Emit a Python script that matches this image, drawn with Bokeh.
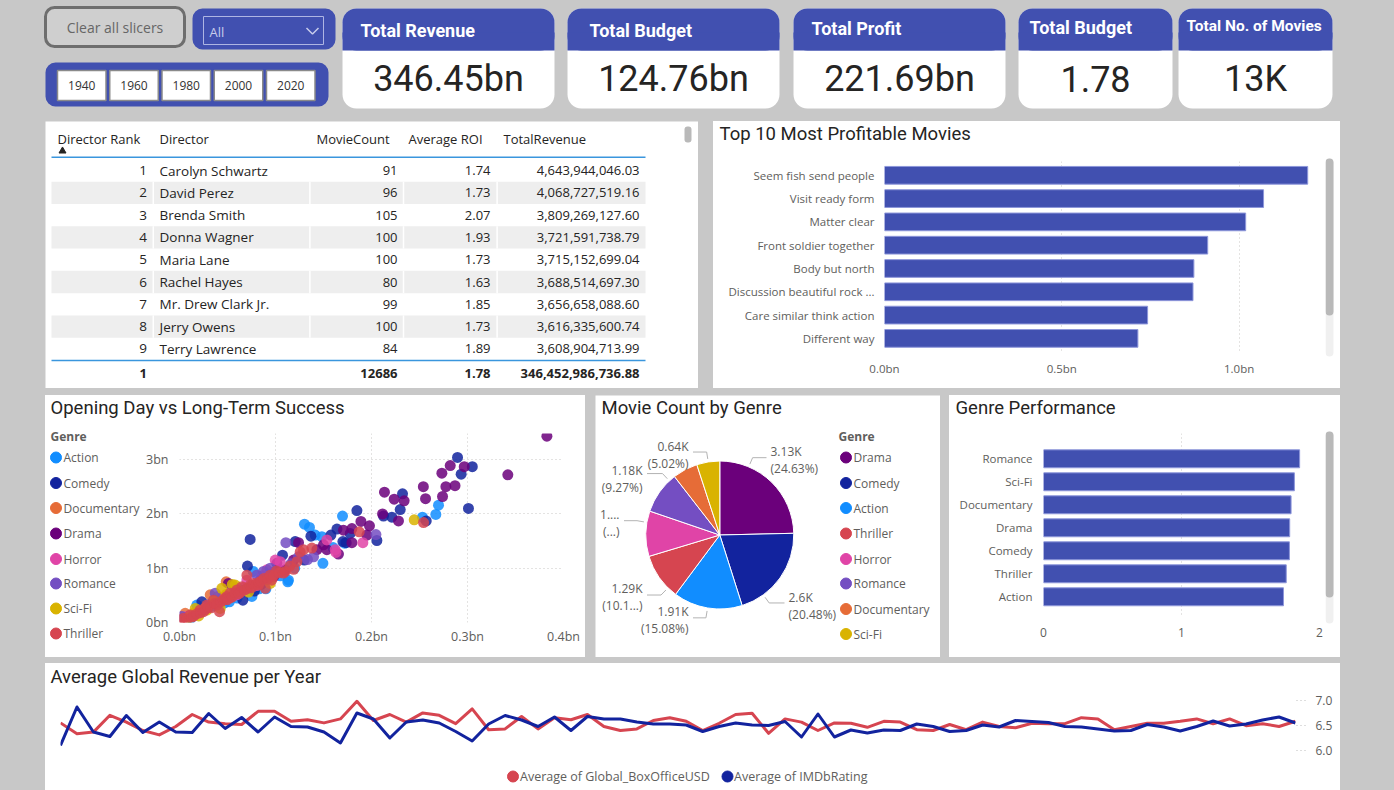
import math
import numpy as np
from bokeh.plotting import figure
from bokeh.models import Range1d, Spacer, FixedTicker, PrintfTickFormatter
from bokeh.layouts import row, column
from bokeh.core.properties import value
from bokeh.embed import file_html
from bokeh.resources import INLINE

# ---------------------------------------------------------------- data
year_buttons = ["1940", "1960", "1980", "2000", "2020"]
genre_filter = "All"

kpi_titles = ["Total Revenue", "Total Budget", "Total Profit", "Total Budget", "Total No. of Movies"]
kpi_values = ["346.45bn", "124.76bn", "221.69bn", "1.78", "13K"]

table_columns = ["Director Rank", "Director", "MovieCount", "Average ROI", "TotalRevenue"]
dir_rank = [1, 2, 3, 4, 5, 6, 7, 8, 9]
dir_name = ["Carolyn Schwartz", "David Perez", "Brenda Smith", "Donna Wagner", "Maria Lane",
            "Rachel Hayes", "Mr. Drew Clark Jr.", "Jerry Owens", "Terry Lawrence"]
dir_movies = [91, 96, 105, 100, 100, 80, 99, 100, 84]
dir_roi = [1.74, 1.73, 2.07, 1.93, 1.73, 1.63, 1.85, 1.73, 1.89]
dir_revenue = [4643944046.03, 4068727519.16, 3809269127.60, 3721591738.79, 3715152699.04,
               3688514697.30, 3656658088.60, 3616335600.74, 3608904713.99]
total_rank = 1
total_movies = 12686
total_roi = 1.78
total_revenue = 346452986736.88

top_movies = ["Seem fish send people", "Visit ready form", "Matter clear", "Front soldier together",
              "Body but north", "Discussion beautiful rock ...", "Care similar think action", "Different way"]
top_profit_bn = [1.1935, 1.069, 1.0186, 0.9115, 0.8725, 0.870, 0.742, 0.7146]

# opening-day gross vs global gross, in billions USD, one pair of lists per genre
scatter_genres = ["Action", "Comedy", "Documentary", "Drama", "Horror", "Romance", "Sci-Fi", "Thriller"]
action_open = [0.012, 0.0181, 0.025, 0.034, 0.047, 0.052, 0.060, 0.0754, 0.0768, 0.083, 0.090, 0.105,
               0.1128, 0.1135, 0.120, 0.1302, 0.1354, 0.1413, 0.1483, 0.1494, 0.160, 0.1698, 0.172,
               0.2531, 0.267, 0.2698]
action_total = [0.08, 0.32, 0.26, 0.30, 0.36, 0.38, 0.45, 0.48, 0.94, 0.62, 0.62, 0.86,
                0.75, 0.78, 1.00, 1.81, 1.75, 1.61, 1.58, 1.09, 1.38, 1.96, 1.46,
                1.94, 1.99, 2.16]
comedy_open = [0.0233, 0.035, 0.040, 0.058, 0.066, 0.0708, 0.0736, 0.078, 0.085, 0.097, 0.1073, 0.1205,
               0.130, 0.1369, 0.1577, 0.164, 0.1702, 0.1736, 0.1778, 0.1848, 0.2056, 0.2125, 0.2212,
               0.2299, 0.2323, 0.257, 0.2896, 0.2934, 0.301, 0.305]
comedy_total = [0.38, 0.36, 0.40, 0.52, 0.41, 1.04, 1.53, 0.58, 0.70, 0.92, 1.24, 1.49,
                1.15, 1.59, 1.61, 1.72, 1.49, 1.47, 1.64, 2.06, 1.51, 1.96, 1.94,
                2.08, 2.37, 1.87, 3.04, 2.73, 2.10, 2.87]
documentary_open = [0.0059, 0.0146, 0.020, 0.027, 0.032, 0.040, 0.044, 0.0486, 0.057, 0.063]
documentary_total = [0.17, 0.17, 0.21, 0.27, 0.51, 0.48, 0.45, 0.75, 0.63, 0.58]
drama_open = [0.051, 0.075, 0.090, 0.0979, 0.1014, 0.1101, 0.1188, 0.124, 0.1431, 0.150, 0.1535, 0.1656,
              0.1708, 0.1796, 0.1796, 0.189, 0.1952, 0.1979, 0.2115, 0.2135, 0.2236, 0.2281, 0.234,
              0.254, 0.2563, 0.274, 0.2733, 0.2775, 0.282, 0.287, 0.2966, 0.342, 0.3827]
drama_total = [0.72, 0.68, 0.82, 0.84, 1.09, 0.97, 1.15, 1.47, 1.34, 1.43, 1.34, 1.26,
               1.70, 1.73, 1.47, 1.86, 1.61, 1.78, 2.00, 2.40, 2.27, 1.87, 2.24,
               2.50, 2.28, 2.32, 2.75, 2.50, 2.89, 2.52, 2.87, 2.72, 3.43]
horror_open = [0.0077, 0.029, 0.050, 0.0597, 0.066, 0.0702, 0.080, 0.086, 0.091, 0.0997, 0.1049, 0.1535,
               0.1622, 0.163, 0.191]
horror_total = [0.11, 0.29, 0.44, 0.51, 0.64, 0.78, 0.68, 0.86, 0.97, 1.15, 1.12, 1.52,
                1.34, 1.29, 1.47]
romance_open = [0.0025, 0.031, 0.0372, 0.0563, 0.061, 0.068, 0.0806, 0.084, 0.0875, 0.0945, 0.099,
                0.1108, 0.116, 0.124, 0.1333, 0.1396, 0.2046]
romance_total = [0.11, 0.33, 0.54, 0.66, 0.62, 0.60, 0.87, 0.78, 0.94, 1.00, 0.90,
                 1.47, 1.08, 1.21, 1.16, 1.21, 1.62]
scifi_open = [0.010, 0.0164, 0.020, 0.0285, 0.036, 0.0424, 0.0441, 0.049, 0.055, 0.058, 0.072, 0.0945,
              0.2445]
scifi_total = [0.09, 0.26, 0.12, 0.23, 0.39, 0.26, 0.63, 0.52, 0.70, 0.69, 0.56, 0.72, 1.89]
thriller_open = [0.0007, 0.0042, 0.008, 0.0111, 0.013, 0.015, 0.018, 0.0216, 0.022, 0.025, 0.027,
                 0.0285, 0.030, 0.033, 0.0354, 0.037, 0.039, 0.0417, 0.043, 0.0458, 0.047, 0.0494,
                 0.050, 0.0528, 0.053, 0.055, 0.058, 0.0598, 0.062, 0.064, 0.065, 0.068, 0.0702,
                 0.071, 0.0736, 0.075, 0.077, 0.080, 0.0823, 0.083, 0.085, 0.088, 0.0893, 0.092,
                 0.0945, 0.096, 0.098, 0.101, 0.104, 0.1083, 0.1101, 0.115, 0.119, 0.1223, 0.1257,
                 0.1292, 0.1379, 0.1872, 0.2542]
thriller_total = [0.05, 0.08, 0.06, 0.14, 0.10, 0.12, 0.16, 0.23, 0.18, 0.20, 0.24,
                  0.32, 0.28, 0.27, 0.41, 0.35, 0.32, 0.20, 0.38, 0.41, 0.44, 0.48,
                  0.42, 0.54, 0.46, 0.47, 0.55, 0.60, 0.53, 0.57, 0.66, 0.60, 0.87,
                  0.63, 0.69, 0.64, 0.72, 0.70, 0.69, 0.74, 0.76, 0.81, 0.63, 0.80,
                  0.87, 0.78, 0.86, 0.95, 0.92, 0.91, 0.94, 1.04, 0.98, 1.12, 1.30,
                  1.34, 1.37, 1.67, 1.84]

pie_genres = ["Drama", "Comedy", "Action", "Thriller", "Horror", "Romance", "Documentary", "Sci-Fi"]
genre_counts = [3125, 2598, 1913, 1287, 1255, 1176, 695, 637]

perf_genres = ["Romance", "Sci-Fi", "Documentary", "Drama", "Comedy", "Thriller", "Action"]
perf_roi = [1.856, 1.818, 1.794, 1.784, 1.782, 1.759, 1.739]

years = list(range(1949, 2025))
avg_box_office_musd = [27.2, 24.5, 24.9, 29.1, 27.4, 25.3, 24.2, 26.3, 29.3, 27.4, 27.0, 26.8, 30.1,
                       30.1, 27.6, 28.0, 27.2, 28.2, 32.6, 27.8, 29.3, 27.4, 29.7, 29.1, 27.0, 30.7,
                       25.5, 25.7, 28.8, 25.7, 28.5, 28.0, 29.3, 26.3, 25.3, 25.7, 27.8, 28.5, 27.6,
                       25.3, 27.1, 29.3, 29.6, 24.6, 28.2, 27.4, 25.3, 27.2, 27.1, 26.1, 27.6, 27.4,
                       25.5, 25.3, 26.8, 25.5, 27.4, 26.3, 26.0, 27.1, 27.0, 27.0, 28.5, 28.2, 25.5,
                       26.3, 27.1, 27.1, 27.6, 28.2, 27.0, 28.2, 26.5, 27.0, 26.3, 27.6]
avg_imdb = [6.10, 6.87, 6.37, 6.28, 6.70, 6.36, 6.57, 6.37, 6.36, 6.74, 6.44, 6.66, 6.37, 6.67, 6.48,
            6.47, 6.37, 6.15, 6.75, 6.63, 6.25, 6.57, 6.61, 6.55, 6.38, 6.19,
            6.53, 6.70, 6.61, 6.48, 6.67, 6.40, 6.68, 6.63, 6.63, 6.57, 6.53, 6.53, 6.51, 6.38,
            6.48, 6.55, 6.51, 6.50, 6.58, 6.27, 6.73, 6.27, 6.41, 6.35, 6.41, 6.40,
            6.53, 6.48, 6.38, 6.40, 6.51, 6.47, 6.60, 6.58, 6.56, 6.48, 6.47, 6.43, 6.39, 6.40,
            6.52, 6.47, 6.39, 6.48, 6.59, 6.49, 6.53, 6.61, 6.67, 6.55]

# ---------------------------------------------------------------- style
BG = "#C8C8C8"
BLUE = "#4150B0"
BAR_EDGE = "#8D96DA"
INK = "#252423"
AXIS_INK = "#605E5C"
GRID = "#C8C6C4"
UI = "Open Sans"
HEAD = "Roboto"
TITLE_SIZE = "18.5px"
WHITE_PANEL = {"background-color": "white"}
GENRE_COLORS = {"Action": "#118DFF", "Comedy": "#12239E", "Documentary": "#E66C37", "Drama": "#6B007B",
                "Horror": "#E044A7", "Romance": "#744EC2", "Sci-Fi": "#D9B300", "Thriller": "#D64550"}
RED = "#D64550"
NAVY = "#12239E"


def canvas(x0, x1, y0, y1, fill):
    """A bare figure whose data units are page pixels (y grows downward)."""
    p = figure(width=x1 - x0, height=y1 - y0, x_range=Range1d(x0, x1), y_range=Range1d(y1, y0),
               x_axis_type=None, y_axis_type=None, toolbar_location=None,
               output_backend="svg", min_border=0)
    p.background_fill_color = fill
    p.border_fill_color = fill
    p.outline_line_color = None
    return p


def boxed(p):
    """Wrap a figure so its frame is not lined up with neighbouring plots."""
    return column(p, styles=WHITE_PANEL)


def put_text(p, x, y, s, size, color=INK, font=UI, align="left", style="normal"):
    xs = x if isinstance(x, list) else [x]
    ys = y if isinstance(y, list) else [y]
    ss = s if isinstance(s, list) else [s]
    p.text(x=xs, y=ys, text=ss, text_font=value(font), text_font_size=size, text_color=color,
           text_align=align, text_baseline="middle", text_font_style=style)


def chart(width, height, xr, yr, left, right, top, bottom, **kw):
    p = figure(width=width, height=height, x_range=xr, y_range=yr, toolbar_location=None,
               output_backend="svg", min_border_left=left, min_border_right=right,
               min_border_top=top, min_border_bottom=bottom, **kw)
    p.background_fill_color = "white"
    p.border_fill_color = "white"
    p.outline_line_color = None
    return p


def style_axis(ax, size="12px", standoff=8):
    ax.axis_line_color = None
    ax.major_tick_line_color = None
    ax.minor_tick_line_color = None
    ax.major_tick_out = 0
    ax.major_tick_in = 0
    ax.minor_tick_out = 0
    ax.minor_tick_in = 0
    ax.major_label_text_font = UI
    ax.major_label_text_font_size = size
    ax.major_label_text_color = AXIS_INK
    ax.major_label_standoff = standoff


def dotted_grid(g):
    g.grid_line_color = GRID
    g.grid_line_dash = "1 3"
    g.grid_line_width = 1


def scrollbar(x0, x1, y0, y1, track, thumb):
    s = canvas(x0, x1, y0, y1, "white")
    s.quad(left=x0, right=x0 + 8, top=track[0], bottom=track[1], fill_color="#F0F0F0",
           line_color=None, border_radius=4)
    s.quad(left=x0, right=x0 + 8, top=thumb[0], bottom=thumb[1], fill_color="#B9B9B9",
           line_color=None, border_radius=4)
    return s


# ---------------------------------------------------------------- header: slicers + cards
hdr = canvas(0, 1394, 0, 121, BG)
hdr.quad(left=45, right=184, top=7, bottom=46, fill_color="#CFCFCF", line_color="#6E6E6E",
         line_width=3, border_radius=9)
put_text(hdr, 114.5, 27, "Clear all slicers", "14px", "#666666", align="center")

hdr.quad(left=192, right=335, top=8, bottom=49, fill_color=BLUE, line_color=None, border_radius=10)
hdr.quad(left=203, right=323, top=16, bottom=44, fill_color=None, line_color="#AEB5E3", line_width=1)
put_text(hdr, 209, 31, genre_filter, "13px", "#C7CCEB")
hdr.line(x=[306, 312, 318], y=[27.5, 33.5, 27.5], line_color="#C7CCEB", line_width=1.5)

hdr.quad(left=45, right=328, top=62, bottom=106, fill_color=BLUE, line_color=None, border_radius=10)
btn_left = [57 + 52.25 * i for i in range(len(year_buttons))]
hdr.quad(left=btn_left, right=[b + 48.5 for b in btn_left], top=70, bottom=100, fill_color="white",
         line_color="#8A8A8A", line_width=1.5)
put_text(hdr, [b + 24.25 for b in btn_left], [85] * len(year_buttons), year_buttons, "12px", "#333333",
         align="center")

card_edges = [(342, 554), (567, 779), (793, 1005), (1018, 1172), (1178, 1332)]
card_title_dx = [18, 22, 18, 11, 8]
card_title_y = [30, 30, 28, 27, 25]
card_title_size = ["18px", "18px", "18px", "18px", "15.5px"]
for i, (title, val) in enumerate(zip(kpi_titles, kpi_values)):
    l, r = card_edges[i]
    hdr.quad(left=l, right=r, top=8, bottom=108, fill_color="white", line_color=None, border_radius=14)
    hdr.quad(left=l, right=r, top=8, bottom=50, fill_color=BLUE, line_color=None, border_radius=14)
    hdr.quad(left=l, right=r, top=32, bottom=50, fill_color=BLUE, line_color=None)
    put_text(hdr, l + card_title_dx[i], card_title_y[i], title, card_title_size[i], "white", HEAD,
             style="bold")
    put_text(hdr, (l + r) / 2, 78, val, "36px", INK, HEAD, align="center")

# ---------------------------------------------------------------- director table
tbl = canvas(45, 698, 121, 388, "white")
row_y = [170 + 22.3 * i for i in range(len(dir_rank))]
shaded = [y for i, y in enumerate(row_y) if i % 2 == 1]
tbl.quad(left=51, right=645, top=[y - 11.15 for y in shaded], bottom=[y + 11.15 for y in shaded],
         fill_color="#EEEEEE", line_color=None)
col_sep = [152.8, 309.4, 403.0, 496.6]
tbl.segment(x0=[c for c in col_sep for _ in shaded], x1=[c for c in col_sep for _ in shaded],
            y0=[y - 11.15 for _ in col_sep for y in shaded], y1=[y + 11.15 for _ in col_sep for y in shaded],
            line_color="white", line_width=1.5)
head_x = [57, 159, 316, 408, 503]
put_text(tbl, head_x, [138] * 5, table_columns, "13px", INK)
tbl.scatter(x=[62], y=[150.5], marker="triangle", size=7, color=INK)
tbl.segment(x0=[51, 51], x1=[645, 645], y0=[156.7, 360], y1=[156.7, 360], line_color="#3A96DD",
            line_width=1.5)
n_rows = len(dir_rank)
put_text(tbl, [146.5] * n_rows, row_y, [str(r) for r in dir_rank], "13.5px", INK, align="right")
put_text(tbl, [159] * n_rows, row_y, dir_name, "13.5px", INK)
put_text(tbl, [397] * n_rows, row_y, [str(m) for m in dir_movies], "13px", INK, align="right")
put_text(tbl, [490] * n_rows, row_y, [f"{v:.2f}" for v in dir_roi], "13px", INK, align="right")
put_text(tbl, [639] * n_rows, row_y, [f"{v:,.2f}" for v in dir_revenue], "13px", INK, align="right")
put_text(tbl, [146.5, 397, 490, 639], [373] * 4,
         [str(total_rank), str(total_movies), f"{total_roi:.2f}", f"{total_revenue:,.2f}"],
         "13px", INK, align="right", style="bold")
tbl.quad(left=684, right=691, top=126, bottom=142, fill_color="#B9B9B9", line_color=None, border_radius=3)

# ---------------------------------------------------------------- top 10 profitable movies
t10_title = canvas(713, 1325, 121, 161, "white")
put_text(t10_title, 719, 133, "Top 10 Most Profitable Movies", TITLE_SIZE, INK, HEAD)
idx = list(range(len(top_movies)))
t10 = chart(612, 227, Range1d(0, 1.2155), Range1d(7.648, -0.592), 171, 10, 0, 35)
t10.hbar(y=idx, left=0, right=top_profit_bn, height=0.76, fill_color=BLUE, line_color=BAR_EDGE,
         line_width=1)
t10.xaxis.ticker = FixedTicker(ticks=[0, 0.5, 1.0])
t10.xaxis.formatter = PrintfTickFormatter(format="%.1fbn")
t10.yaxis.ticker = FixedTicker(ticks=idx)
t10.yaxis.major_label_overrides = {i: m for i, m in enumerate(top_movies)}
style_axis(t10.xaxis[0], "11.5px", 7)
style_axis(t10.yaxis[0], "11.5px", 10)
t10.ygrid.visible = False
dotted_grid(t10.xgrid[0])
t10_scroll = scrollbar(1325, 1340, 121, 388, (158, 356), (158, 315))
t10_panel = row(column(boxed(t10_title), t10, styles=WHITE_PANEL), boxed(t10_scroll), styles=WHITE_PANEL)

# ---------------------------------------------------------------- opening day scatter
sc_title = canvas(45, 585, 395, 425, "white")
put_text(sc_title, 50, 407, "Opening Day vs Long-Term Success", TITLE_SIZE, INK, HEAD)
sc_leg = canvas(45, 140, 425, 657, "white")
leg_y = [457, 482.5, 507.5, 533, 558.5, 583, 608, 633]
put_text(sc_leg, 50, 436, "Genre", "12px", AXIS_INK, style="bold")
sc_leg.scatter(x=[55.5] * 8, y=leg_y, size=11, color=[GENRE_COLORS[g] for g in scatter_genres])
put_text(sc_leg, [63] * 8, leg_y, scatter_genres, "12px", AXIS_INK)

sc = chart(445, 232, Range1d(0, 0.4), Range1d(0, 3.48), 39, 22, 8, 35)
series = [(action_open, action_total), (comedy_open, comedy_total),
          (documentary_open, documentary_total), (drama_open, drama_total),
          (horror_open, horror_total), (romance_open, romance_total),
          (scifi_open, scifi_total), (thriller_open, thriller_total)]
for g, (xs, ys) in zip(scatter_genres, series):
    sc.scatter(x=xs, y=ys, size=11, fill_color=GENRE_COLORS[g], fill_alpha=0.85, line_color=None)
sc.xaxis.ticker = FixedTicker(ticks=[0, 0.1, 0.2, 0.3, 0.4])
sc.xaxis.formatter = PrintfTickFormatter(format="%.1fbn")
sc.yaxis.ticker = FixedTicker(ticks=[0, 1, 2, 3])
sc.yaxis.formatter = PrintfTickFormatter(format="%dbn")
style_axis(sc.xaxis[0], "12.5px", 5)
style_axis(sc.yaxis[0], "12.5px", 11)
dotted_grid(sc.xgrid[0])
dotted_grid(sc.ygrid[0])
sc_panel = column(boxed(sc_title), row(boxed(sc_leg), sc, styles=WHITE_PANEL), styles=WHITE_PANEL)

# ---------------------------------------------------------------- movie count pie
pie = canvas(595, 940, 395, 657, "white")
put_text(pie, 601, 407, "Movie Count by Genre", TITLE_SIZE, INK, HEAD)
PIE_CX, PIE_CY, PIE_R = 719.3, 534.5, 74
count_total = sum(genre_counts)
cum = np.cumsum(genre_counts) / count_total * 2 * np.pi
starts = np.pi / 2 - np.concatenate([[0.0], cum[:-1]])
ends = np.pi / 2 - cum
pie.wedge(x=PIE_CX, y=PIE_CY, radius=PIE_R, start_angle=starts, end_angle=ends, direction="clock",
          fill_color=[GENRE_COLORS[g] for g in pie_genres], line_color="white", line_width=1)

# label placement: leader angle (deg clockwise from top), text anchor, alignment, truncation
pie_label_layout = {
    "Drama": (23.0, 770, 451, "left", None, None),
    "Comedy": (144.0, 788, 597, "left", None, None),
    "Action": (189.5, 688, 611, "right", None, None),
    "Thriller": (224.4, 642, 588, "right", None, 4),
    "Horror": (279.8, 619, 514, "right", 2, 0),
    "Romance": (317.0, 642, 470, "right", None, None),
    "Sci-Fi": (351.0, 688, 446, "right", None, None),
}


def clip(s, n):
    return s if n is None else s[:n] + "..."


lead_x, lead_y = [], []
for g, c in zip(pie_genres, genre_counts):
    if g not in pie_label_layout:
        continue
    a, lx, ly, al, n_count, n_pct = pie_label_layout[g]
    rad = math.radians(a)
    p0 = (PIE_CX + (PIE_R + 3) * math.sin(rad), PIE_CY - (PIE_R + 3) * math.cos(rad))
    p1 = (PIE_CX + (PIE_R + 10) * math.sin(rad), PIE_CY - (PIE_R + 10) * math.cos(rad))
    p2 = (lx - 4 if al == "left" else lx + 4.5, p1[1])
    lead_x.append([p0[0], p1[0], p2[0]])
    lead_y.append([p0[1], p1[1], p2[1]])
    count_txt = f"{round(c / 1000 + 1e-9, 2):g}K"
    pct_txt = f"{100 * c / count_total:.2f}%"
    put_text(pie, [lx, lx], [ly, ly + 17],
             [clip(count_txt, n_count), "(" + clip(pct_txt, n_pct) + ")"], "12px", AXIS_INK, align=al)
pie.multi_line(xs=lead_x, ys=lead_y, line_color="#B3B3B3", line_width=1)

pie_leg_y = [457, 482.5, 507.5, 533, 558.5, 583, 608.5, 633.5]
put_text(pie, 838, 436, "Genre", "12px", AXIS_INK, style="bold")
pie.scatter(x=[845.5] * 8, y=pie_leg_y, size=11, color=[GENRE_COLORS[g] for g in pie_genres])
put_text(pie, [853] * 8, pie_leg_y, pie_genres, "12px", AXIS_INK)

# ---------------------------------------------------------------- genre performance
gp_title = canvas(949, 1325, 395, 433, "white")
put_text(gp_title, 955, 407, "Genre Performance", TITLE_SIZE, INK, HEAD)
gidx = list(range(len(perf_genres)))
gp = chart(376, 224, Range1d(0, 2.0), Range1d(6.9, -1.1), 94, 6, 0, 40)
gp.hbar(y=gidx, left=0, right=perf_roi, height=0.78, fill_color=BLUE, line_color=BAR_EDGE, line_width=1)
gp.xaxis.ticker = FixedTicker(ticks=[0, 1, 2])
gp.xaxis.formatter = PrintfTickFormatter(format="%d")
gp.yaxis.ticker = FixedTicker(ticks=gidx)
gp.yaxis.major_label_overrides = {i: g for i, g in enumerate(perf_genres)}
style_axis(gp.xaxis[0], "12px", 10)
style_axis(gp.yaxis[0], "11.5px", 11)
gp.ygrid.visible = False
dotted_grid(gp.xgrid[0])
gp_scroll = scrollbar(1325, 1340, 395, 657, (431, 623), (431, 597))
gp_panel = row(column(boxed(gp_title), gp, styles=WHITE_PANEL), boxed(gp_scroll), styles=WHITE_PANEL)

# ---------------------------------------------------------------- revenue / rating per year
ln_title = canvas(45, 1340, 663, 688, "white")
put_text(ln_title, 50, 676, "Average Global Revenue per Year", TITLE_SIZE, INK, HEAD)
ln = chart(1295, 78, Range1d(years[0], years[-1]), Range1d(5.76, 7.24), 15, 45, 0, 4,
           x_axis_location=None, y_axis_location="right")
ln.extra_y_ranges = {"usd": Range1d(17.3, 35.8)}
ln.line(x=years, y=avg_box_office_musd, y_range_name="usd", line_color=RED, line_width=3,
        line_join="round")
ln.line(x=years, y=avg_imdb, line_color=NAVY, line_width=3, line_join="round")
ln.yaxis.ticker = FixedTicker(ticks=[6.0, 6.5, 7.0])
ln.yaxis.formatter = PrintfTickFormatter(format="%.1f")
style_axis(ln.yaxis[0], "12px", 10)
ln.yaxis.major_tick_line_color = "#BDBDBD"
ln.yaxis.major_tick_line_dash = "1 3"
ln.yaxis.major_tick_out = 10
ln.grid.visible = False
ln_leg = canvas(45, 1340, 766, 790, "white")
ln_leg.scatter(x=[512.5, 727], y=[776, 776], size=11, color=[RED, NAVY])
put_text(ln_leg, [519.5, 733.5], [776, 776], ["Average of Global_BoxOfficeUSD", "Average of IMDbRating"],
         "12.5px", AXIS_INK)
ln_panel = column(boxed(ln_title), ln, boxed(ln_leg), styles=WHITE_PANEL)

# ---------------------------------------------------------------- page
root = column(
    hdr,
    row(Spacer(width=45, height=267), tbl, Spacer(width=15, height=267), t10_panel),
    Spacer(width=1394, height=7),
    row(Spacer(width=45, height=262), sc_panel, Spacer(width=10, height=262), pie,
        Spacer(width=9, height=262), gp_panel),
    Spacer(width=1394, height=6),
    row(Spacer(width=45, height=127), ln_panel),
    styles={"background-color": BG},
)

open("out.html", "w").write(file_html(root, INLINE))
